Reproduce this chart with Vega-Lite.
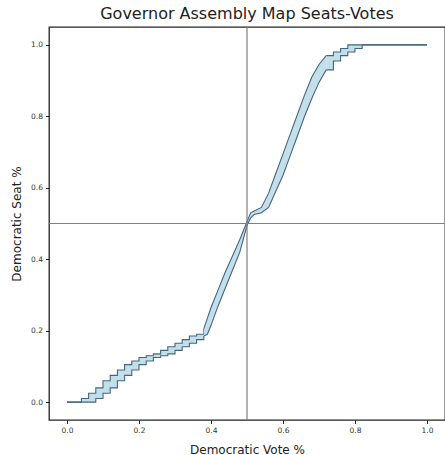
{
  "$schema": "https://vega.github.io/schema/vega-lite/v6.json",
  "autosize": {"type": "none"},
  "padding": {"left": 49, "top": 27, "right": 0, "bottom": 35},
  "width": 396,
  "height": 393,
  "background": "white",
  "title": {"text": "Governor Assembly Map Seats-Votes", "fontSize": 16, "font": "DejaVu Sans", "fontWeight": "normal", "color": "#222222", "offset": 4, "anchor": "middle"},
  "config": {
    "view": {"stroke": "#222222", "strokeWidth": 1.3},
    "axis": {"domain": false, "grid": false, "tickColor": "#222222", "tickSize": 3.5, "labelFont": "DejaVu Sans", "labelFontSize": 7.5, "labelColor": "#333333", "titleFont": "DejaVu Sans", "titleFontSize": 12, "titleFontWeight": "normal", "titleColor": "#222222", "labelPadding": 3}
  },
  "datasets": {
    "band": [
      {"v": 0.00, "lo": 0, "hi": 0},
      {"v": 0.02, "lo": 0, "hi": 0},
      {"v": 0.04, "lo": 0, "hi": 0.01},
      {"v": 0.06, "lo": 0, "hi": 0.025},
      {"v": 0.08, "lo": 0.01, "hi": 0.04},
      {"v": 0.10, "lo": 0.025, "hi": 0.06},
      {"v": 0.12, "lo": 0.04, "hi": 0.075},
      {"v": 0.14, "lo": 0.06, "hi": 0.09},
      {"v": 0.16, "lo": 0.075, "hi": 0.105},
      {"v": 0.18, "lo": 0.09, "hi": 0.115},
      {"v": 0.20, "lo": 0.105, "hi": 0.125},
      {"v": 0.22, "lo": 0.115, "hi": 0.13},
      {"v": 0.24, "lo": 0.125, "hi": 0.135},
      {"v": 0.26, "lo": 0.13, "hi": 0.145},
      {"v": 0.28, "lo": 0.135, "hi": 0.155},
      {"v": 0.30, "lo": 0.145, "hi": 0.165},
      {"v": 0.32, "lo": 0.155, "hi": 0.175},
      {"v": 0.34, "lo": 0.165, "hi": 0.185},
      {"v": 0.36, "lo": 0.175, "hi": 0.19},
      {"v": 0.38, "lo": 0.185, "hi": 0.205},
      {"v": 0.39, "lo": 0.19, "hi": 0.235},
      {"v": 0.40, "lo": 0.215, "hi": 0.265},
      {"v": 0.42, "lo": 0.27, "hi": 0.315},
      {"v": 0.44, "lo": 0.32, "hi": 0.365},
      {"v": 0.46, "lo": 0.37, "hi": 0.41},
      {"v": 0.48, "lo": 0.42, "hi": 0.455},
      {"v": 0.50, "lo": 0.495, "hi": 0.505},
      {"v": 0.51, "lo": 0.515, "hi": 0.53},
      {"v": 0.52, "lo": 0.525, "hi": 0.535},
      {"v": 0.54, "lo": 0.53, "hi": 0.545},
      {"v": 0.56, "lo": 0.545, "hi": 0.585},
      {"v": 0.58, "lo": 0.59, "hi": 0.64},
      {"v": 0.60, "lo": 0.635, "hi": 0.695},
      {"v": 0.62, "lo": 0.69, "hi": 0.75},
      {"v": 0.64, "lo": 0.745, "hi": 0.805},
      {"v": 0.66, "lo": 0.80, "hi": 0.86},
      {"v": 0.68, "lo": 0.85, "hi": 0.91},
      {"v": 0.70, "lo": 0.895, "hi": 0.945},
      {"v": 0.72, "lo": 0.93, "hi": 0.97},
      {"v": 0.74, "lo": 0.955, "hi": 0.98},
      {"v": 0.76, "lo": 0.97, "hi": 0.99},
      {"v": 0.78, "lo": 0.98, "hi": 1.0},
      {"v": 0.80, "lo": 0.99, "hi": 1.0},
      {"v": 0.82, "lo": 1.0, "hi": 1.0},
      {"v": 0.86, "lo": 1.0, "hi": 1.0},
      {"v": 0.90, "lo": 1.0, "hi": 1.0},
      {"v": 0.95, "lo": 1.0, "hi": 1.0},
      {"v": 1.00, "lo": 1.0, "hi": 1.0}
    ],
    "ref": [{"p": 0.5}]
  },
  "layer": [
    {
      "data": {"name": "band"},
      "transform": [{"filter": "datum.v <= 0.38"}],
      "encoding": {
        "x": {"field": "v", "type": "quantitative", "scale": {"domain": [-0.05, 1.05], "nice": false, "zero": false},
          "axis": {"values": [0, 0.2, 0.4, 0.6, 0.8, 1.0], "format": ".1f", "title": "Democratic Vote %", "titlePadding": 10}}
      },
      "layer": [
        {
          "mark": {"type": "area", "interpolate": "step-after", "color": "#bcdbe8", "opacity": 0.9},
          "encoding": {
            "y": {"field": "lo", "type": "quantitative", "scale": {"domain": [-0.05, 1.05], "nice": false, "zero": false},
              "axis": {"values": [0, 0.2, 0.4, 0.6, 0.8, 1.0], "format": ".1f", "title": "Democratic Seat %", "titlePadding": 7}},
            "y2": {"field": "hi"}
          }
        },
        {
          "transform": [{"fold": ["lo", "hi"], "as": ["edge", "s"]}],
          "mark": {"type": "line", "interpolate": "step-after", "color": "#45667f", "strokeWidth": 1.1},
          "encoding": {"y": {"field": "s", "type": "quantitative"}, "detail": {"field": "edge"}}
        }
      ]
    },
    {
      "data": {"name": "band"},
      "transform": [{"filter": "datum.v >= 0.38 && datum.v <= 0.72"}],
      "encoding": {"x": {"field": "v", "type": "quantitative"}},
      "layer": [
        {
          "mark": {"type": "area", "interpolate": "linear", "color": "#bcdbe8", "opacity": 0.9},
          "encoding": {"y": {"field": "lo", "type": "quantitative"}, "y2": {"field": "hi"}}
        },
        {
          "transform": [{"fold": ["lo", "hi"], "as": ["edge", "s"]}],
          "mark": {"type": "line", "interpolate": "linear", "color": "#45667f", "strokeWidth": 1.1},
          "encoding": {"y": {"field": "s", "type": "quantitative"}, "detail": {"field": "edge"}}
        }
      ]
    },
    {
      "data": {"name": "band"},
      "transform": [{"filter": "datum.v >= 0.72"}],
      "encoding": {"x": {"field": "v", "type": "quantitative"}},
      "layer": [
        {
          "mark": {"type": "area", "interpolate": "step-after", "color": "#bcdbe8", "opacity": 0.9},
          "encoding": {"y": {"field": "lo", "type": "quantitative"}, "y2": {"field": "hi"}}
        },
        {
          "transform": [{"fold": ["lo", "hi"], "as": ["edge", "s"]}],
          "mark": {"type": "line", "interpolate": "step-after", "color": "#45667f", "strokeWidth": 1.1},
          "encoding": {"y": {"field": "s", "type": "quantitative"}, "detail": {"field": "edge"}}
        }
      ]
    },
    {
      "data": {"name": "ref"},
      "mark": {"type": "rule", "color": "#7f7f7f", "strokeWidth": 1.2},
      "encoding": {"x": {"field": "p", "type": "quantitative"}}
    },
    {
      "data": {"name": "ref"},
      "mark": {"type": "rule", "color": "#7f7f7f", "strokeWidth": 1.2},
      "encoding": {"y": {"field": "p", "type": "quantitative"}}
    }
  ]
}
